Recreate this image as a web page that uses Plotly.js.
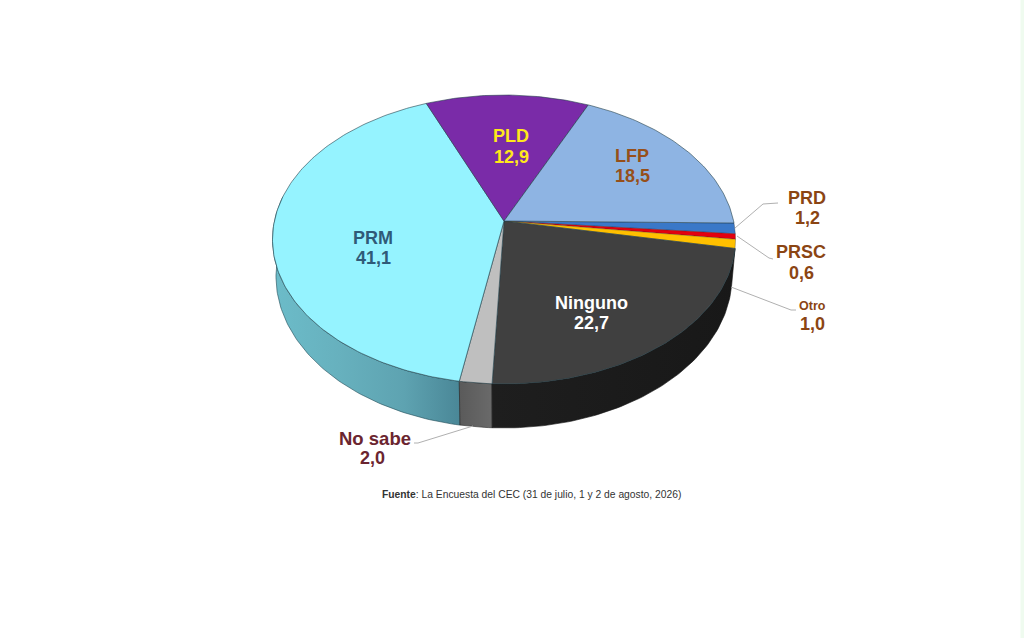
<!DOCTYPE html>
<html><head><meta charset="utf-8">
<script src="https://cdn.plot.ly/plotly-3.0.1.min.js"></script>
<style>html,body{margin:0;padding:0;background:#fff}#c{width:1024px;height:638px}</style>
</head><body><div id="c"></div>
<script>
// Data, clockwise from the east edge of the pie
const categories = ['PRD','PRSC','Otro','Ninguno','No sabe','PRM','PLD','LFP'];
const values     = [1.2, 0.6, 1.0, 22.7, 2.0, 41.1, 12.9, 18.5];
const topColors  = ['#3A78C8','#E3000F','#FFC000','#404040','#BFBFBF','#95F3FF','#7A2BA8','#8EB4E3'];
const labelColors= ['#8B4513','#8B4513','#8B4513','#FFFFFF','#6B2530','#2F5A78','#FFE81A','#964F1A'];

// Perspective model of the tilted disc
const CX=504, CY=221, R=229.6, S=142.1, K=0.128, ROT=-0.8;
function topPt(a){const t=a*Math.PI/180,u=Math.cos(t),v=Math.sin(t),d=1+K*v;return [CX+R*u/d,CY-S*v/d];}
function botPt(a){const p=topPt(a);return [CX+(p[0]-CX)*0.985,CY+(p[1]-CY)*1.049+36];}
function arc(f,a,b){const o=[],n=Math.max(2,Math.ceil(Math.abs(b-a)));for(let i=0;i<=n;i++)o.push(f(a+(b-a)*i/n));return o;}

// slice angles
let bounds=[ROT];
values.forEach(v=>bounds.push(bounds[bounds.length-1]-v*3.6));
const angle=n=>{const i=categories.indexOf(n);return [bounds[i],bounds[i+1]];};

const EDGE='#24404a';
function poly(pts,extra){return Object.assign({type:'scatter',mode:'lines',x:pts.map(p=>p[0]),y:pts.map(p=>p[1]),fill:'toself',hoverinfo:'skip',showlegend:false},extra);}
function wall(a,b,stops,color){
  const pts=arc(topPt,a,b).concat(arc(botPt,b,a));pts.push(pts[0]);
  return poly(pts,{line:{color:color||'#1c3038',width:0.6},fillcolor:stops[0][1],fillgradient:{type:'horizontal',colorscale:stops}});
}
const traces=[];
const [nA,nB]=angle('Ninguno'),[sA,sB]=angle('No sabe'),[pA]=angle('PRM');
traces.push(wall(pA,-190,[[0,'#6CBCC9'],[0.35,'#67B1BE'],[0.7,'#5EA3B1'],[1,'#4A8797']],'#1f4a55'));
traces.push(wall(sA,sB,[[0,'#5A5A5A'],[1,'#6A6A6A']],'#222'));
traces.push(wall(nA,nB,[[0,'#1E1E1E'],[1,'#181818']],'#111'));
categories.forEach((c,i)=>{
  const pts=[[CX,CY]].concat(arc(topPt,bounds[i],bounds[i+1]));pts.push([CX,CY]);
  traces.push(poly(pts,{name:c,line:{color:i<3?'rgba(40,40,40,0.5)':EDGE,width:0.6},fillcolor:topColors[i]}));
});

// Label placement (name x,y ; value x,y ; name size)
const place={PRM:[373,238,373,258,18],PLD:[511,136,511,157,18],LFP:[632,156,632,176,18],
  Ninguno:[591,303,591,323,18],PRD:[807,198,807,218,18],PRSC:[801,252,801,273,18],
  Otro:[812,306,812,324,12.5],'No sabe':[375,438,372,458,18.5]};
const annotations=[];
categories.forEach((c,i)=>{
  const p=place[c],txt=values[i].toFixed(1).replace('.',',');
  const a=(t,x,y,sz)=>annotations.push({xref:'x',yref:'y',x,y,text:'<b>'+t+'</b>',showarrow:false,xanchor:'center',yanchor:'middle',
    font:{family:'Liberation Sans, Arial, sans-serif',size:sz,color:labelColors[i]}});
  a(c,p[0],p[1],p[4]);a(txt,p[2],p[3],18);
});
annotations.push({xref:'x',yref:'y',x:531,y:494,showarrow:false,xanchor:'center',yanchor:'middle',
  text:'<b>Fuente</b>: La Encuesta del CEC (31 de julio, 1 y 2 de agosto, 2026)',
  font:{family:'Liberation Sans, Arial, sans-serif',size:10.3,color:'#333'}});

// Leader lines
const leaders=[[[735,228],[763,204],[778,203]],[[737,236],[769,258],[773,259]],[[731,287],[791,310],[796,310]],[[473,426],[418,443],[414,443]]];
leaders.forEach(l=>traces.push({type:'scatter',mode:'lines',x:l.map(p=>p[0]),y:l.map(p=>p[1]),line:{color:'#B0B0B0',width:1},hoverinfo:'skip',showlegend:false}));

const layout={width:1024,height:638,margin:{l:0,r:0,t:0,b:0},paper_bgcolor:'#fff',plot_bgcolor:'#fff',showlegend:false,
  xaxis:{range:[0,1024],visible:false,fixedrange:true},yaxis:{range:[638,0],visible:false,fixedrange:true},
  annotations,
  shapes:[{type:'rect',xref:'x',yref:'y',x0:1020.5,x1:1024,y0:0,y1:638,fillcolor:'#EFFBEF',line:{width:0},layer:'below'}]};
Plotly.newPlot('c',traces,layout,{displayModeBar:false,staticPlot:true});
</script></body></html>
